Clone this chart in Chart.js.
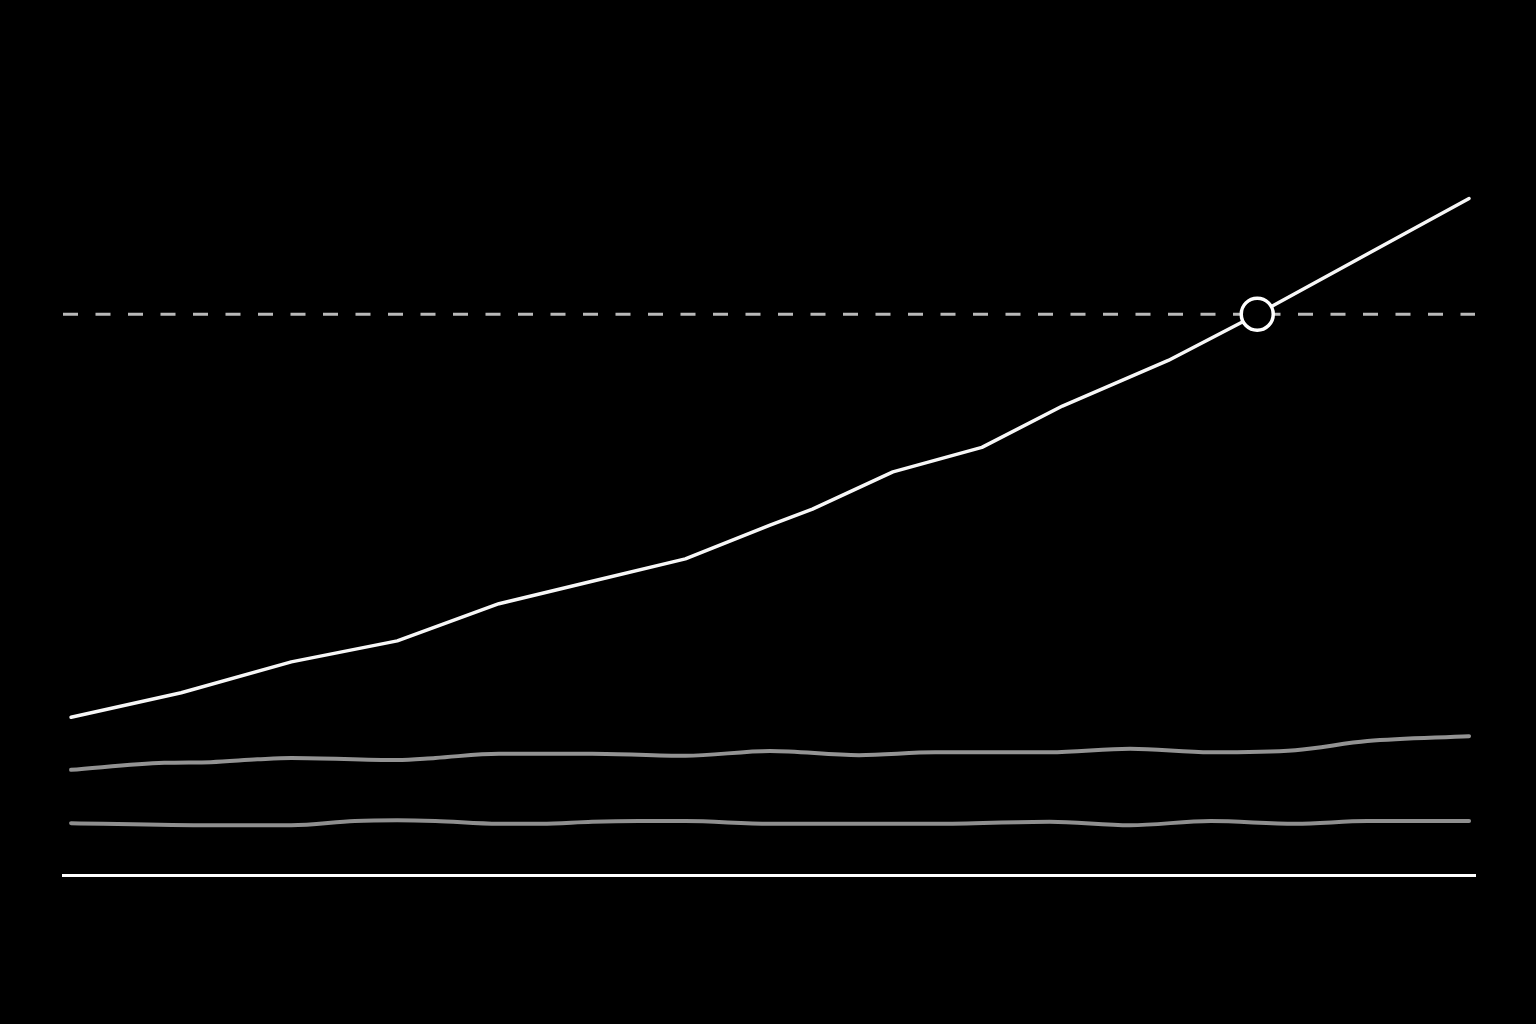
<!DOCTYPE html>
<html>
<head>
<meta charset="utf-8">
<script src="https://cdn.jsdelivr.net/npm/chart.js@4.4.1/dist/chart.umd.min.js"></script>
<style>
  html, body { margin: 0; padding: 0; background: #000; }
  #wrap { width: 1536px; height: 1024px; background: #000; }
  canvas { display: block; }
</style>
</head>
<body>
<div id="wrap"><canvas id="c" width="1536" height="1024"></canvas></div>
<script>
// ---- Data ----
const mainYears   = [1990.0, 1992.6, 1995.2, 1997.7, 2000.1, 2002.3, 2004.5, 2006.5, 2007.5, 2009.4, 2011.5, 2013.4, 2015.9, 2018.0, 2020.6, 2023.0];
const mainValues  = [22.5, 26.0, 30.4, 33.4, 38.7, 41.9, 45.1, 49.9, 52.2, 57.5, 61.0, 66.9, 73.4, 80.0, 88.6, 96.5];

const upperYears  = [1990.0, 1992.2, 1993.3, 1994.4, 1995.2, 1997.7, 1998.6, 2000.1, 2002.3, 2004.5, 2006.5, 2008.6, 2010.4, 2013.1, 2015.0, 2016.9, 2018.9, 2020.6, 2023.0];
const upperValues = [15.0, 16.0, 16.1, 16.5, 16.7, 16.4, 16.7, 17.3, 17.3, 17.0, 17.7, 17.1, 17.5, 17.5, 18.0, 17.5, 17.8, 19.1, 19.8];

const lowerYears  = [1990.0, 1993.3, 1995.2, 1996.7, 1997.7, 1998.6, 2000.1, 2001.1, 2002.3, 2003.4, 2004.5, 2006.5, 2008.6, 2010.4, 2013.1, 2015.0, 2016.9, 2018.9, 2020.6, 2023.0];
const lowerValues = [7.4, 7.1, 7.1, 7.7, 7.8, 7.7, 7.3, 7.3, 7.6, 7.7, 7.7, 7.3, 7.3, 7.3, 7.6, 7.1, 7.7, 7.3, 7.7, 7.7];

const thresholdValue = 80;
const crossingYear   = 2018.0;

const xMin = 1989.81, xMax = 2023.14;
const yMin = 0, yMax = 100;

const toPoints = (xs, ys) => xs.map((x, i) => ({ x: x, y: ys[i] }));

new Chart(document.getElementById('c'), {
  type: 'line',
  data: {
    datasets: [
      {
        label: 'crossing',
        data: [{ x: crossingYear, y: thresholdValue }],
        showLine: false,
        pointRadius: 16,
        pointHoverRadius: 16,
        pointBorderWidth: 3.5,
        pointBackgroundColor: '#000000',
        pointBorderColor: '#ffffff',
        order: 0
      },
      {
        label: 'main',
        data: toPoints(mainYears, mainValues),
        borderColor: '#f7f7f7',
        borderWidth: 3.5,
        pointRadius: 0,
        tension: 0,
        borderCapStyle: 'round',
        borderJoinStyle: 'round',
        order: 1
      },
      {
        label: 'upper',
        data: toPoints(upperYears, upperValues),
        borderColor: '#939393',
        borderWidth: 4,
        pointRadius: 0,
        cubicInterpolationMode: 'monotone',
        borderCapStyle: 'round',
        borderJoinStyle: 'round',
        order: 2
      },
      {
        label: 'lower',
        data: toPoints(lowerYears, lowerValues),
        borderColor: '#8f8f8f',
        borderWidth: 4,
        pointRadius: 0,
        cubicInterpolationMode: 'monotone',
        borderCapStyle: 'round',
        borderJoinStyle: 'round',
        order: 3
      },
      {
        label: 'threshold',
        data: [{ x: xMin, y: thresholdValue }, { x: xMax, y: thresholdValue }],
        borderColor: '#b9b9b9',
        borderWidth: 3,
        borderDash: [15, 17.5],
        pointRadius: 0,
        tension: 0,
        order: 4
      }
    ]
  },
  options: {
    responsive: false,
    devicePixelRatio: 1,
    animation: false,
    layout: { padding: { left: 63, right: 61, top: 174, bottom: 141 } },
    plugins: { legend: { display: false }, tooltip: { enabled: false } },
    scales: {
      x: {
        type: 'linear',
        min: xMin,
        max: xMax,
        grid: { display: false },
        ticks: { display: false },
        border: { display: true, color: '#ffffff', width: 3 }
      },
      y: {
        type: 'linear',
        min: yMin,
        max: yMax,
        display: false
      }
    }
  }
});
</script>
</body>
</html>
